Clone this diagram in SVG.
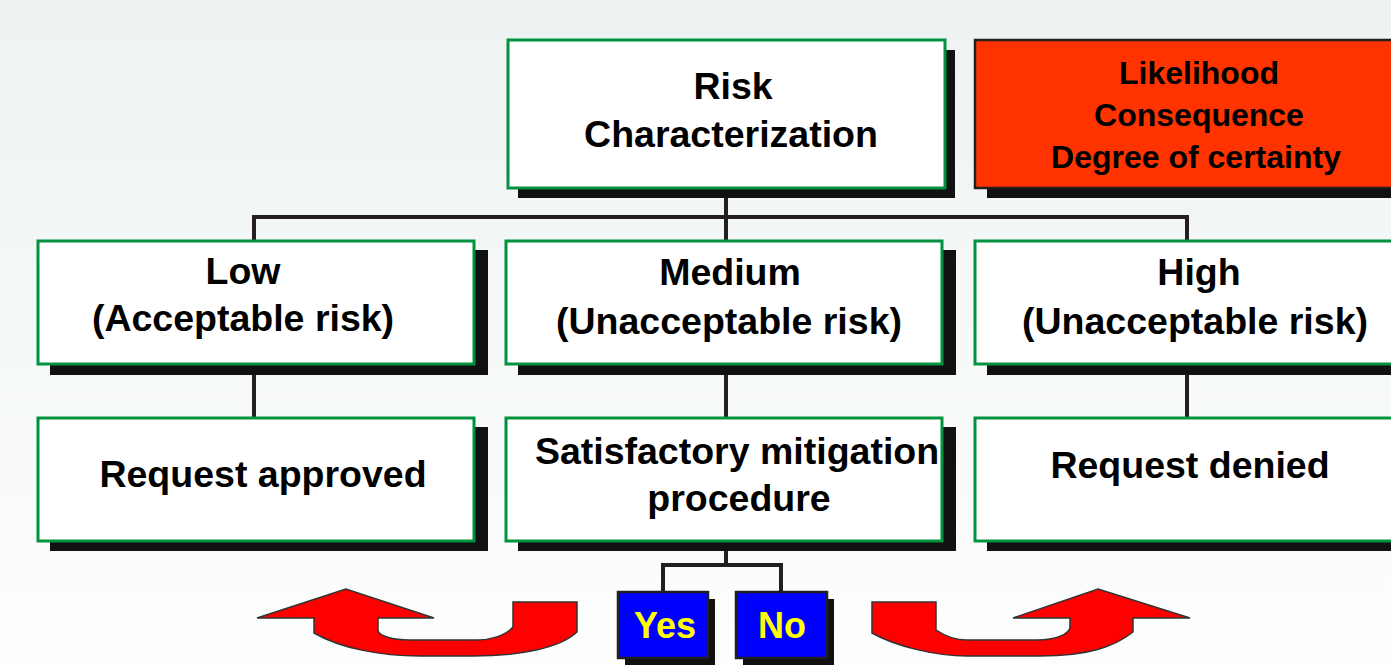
<svg xmlns="http://www.w3.org/2000/svg" width="1391" height="665" viewBox="0 0 1391 665">
<defs>
<linearGradient id="bg" x1="0" y1="0" x2="0" y2="1">
<stop offset="0" stop-color="#edf3f1"/>
<stop offset="1" stop-color="#fdfefe"/>
</linearGradient>
<style>
.sh{fill:#111;}
.box{fill:#fff;stroke:#00923f;stroke-width:3;}
.red{fill:#ff3300;stroke:#231f20;stroke-width:2.5;}
.blue{fill:#0000ff;stroke:#231f20;stroke-width:2.5;}
.t{font-family:"Liberation Sans",Arial,sans-serif;font-weight:bold;font-size:37.5px;fill:#000;text-anchor:middle;}
.ts{font-size:32px;}
.ty{fill:#ffff00;font-size:36px;}
.ln{fill:none;stroke:#231f20;stroke-width:4;}
.arr{fill:#ff0000;stroke:#333;stroke-width:1.5;}
</style>
</defs>
<rect width="1391" height="665" fill="url(#bg)"/>
<g id="connectors">
<path class="ln" d="M726 188V240M254 240V217H1187V240"/>
<path class="ln" d="M254 364V418M726 364V418M1187 364V418"/>
<path class="ln" d="M726 541V565M663 592V565H781V592"/>
</g>
<g id="risk">
<rect class="sh" x="518" y="50" width="437" height="148"/>
<rect class="box" x="508" y="40" width="437" height="148"/>
<text class="t" x="733" y="99">Risk</text>
<text class="t" x="731" y="147">Characterization</text>
</g>
<g id="factors">
<rect class="sh" x="987" y="50" width="420" height="148"/>
<rect class="red" x="975" y="40" width="430" height="148"/>
<text class="t ts" x="1199" y="84">Likelihood</text>
<text class="t ts" x="1199" y="126">Consequence</text>
<text class="t ts" x="1196" y="168">Degree of certainty</text>
</g>
<g id="low">
<rect class="sh" x="50" y="250" width="438" height="125"/>
<rect class="box" x="38" y="241" width="436" height="123"/>
<text class="t" x="243" y="284">Low</text>
<text class="t" x="243" y="331">(Acceptable risk)</text>
</g>
<g id="medium">
<rect class="sh" x="518" y="250" width="438" height="125"/>
<rect class="box" x="506" y="241" width="436" height="123"/>
<text class="t" x="730" y="285">Medium</text>
<text class="t" x="729" y="334">(Unacceptable risk)</text>
</g>
<g id="high">
<rect class="sh" x="987" y="250" width="420" height="125"/>
<rect class="box" x="975" y="241" width="430" height="123"/>
<text class="t" x="1199" y="285">High</text>
<text class="t" x="1195" y="334">(Unacceptable risk)</text>
</g>
<g id="approved">
<rect class="sh" x="50" y="427" width="438" height="124"/>
<rect class="box" x="38" y="418" width="436" height="123"/>
<text class="t" x="263" y="487">Request approved</text>
</g>
<g id="mitigation">
<rect class="sh" x="518" y="427" width="438" height="124"/>
<rect class="box" x="506" y="418" width="436" height="123"/>
<text class="t" x="737" y="464">Satisfactory mitigation</text>
<text class="t" x="739" y="511">procedure</text>
</g>
<g id="denied">
<rect class="sh" x="987" y="427" width="420" height="124"/>
<rect class="box" x="975" y="418" width="430" height="123"/>
<text class="t" x="1190" y="478">Request denied</text>
</g>
<g id="yes">
<rect class="sh" x="625" y="599" width="90" height="66"/>
<rect class="blue" x="618" y="592" width="90" height="66"/>
<text class="t ty" x="665" y="638">Yes</text>
</g>
<g id="no">
<rect class="sh" x="743" y="599" width="91" height="66"/>
<rect class="blue" x="736" y="592" width="91" height="66"/>
<text class="t ty" x="782" y="638">No</text>
</g>
<g id="arrow-left">
<path class="arr" d="M346 589L257 618H314V633C340 648 380 656 420 656H473C520 656 560 648 577 632V602H513V627C505 636 490 640 477 640H410C393 640 378 636 378 630V618H434Z"/>
</g>
<g id="arrow-right">
<path class="arr" d="M1098 589L1190 618H1133V632C1115 646 1090 656 1040 656H967C935 656 895 646 872 633V602H936V630C945 636 955 640 967 640H1037C1055 640 1070 634 1070 627V618H1013Z"/>
</g>
</svg>
